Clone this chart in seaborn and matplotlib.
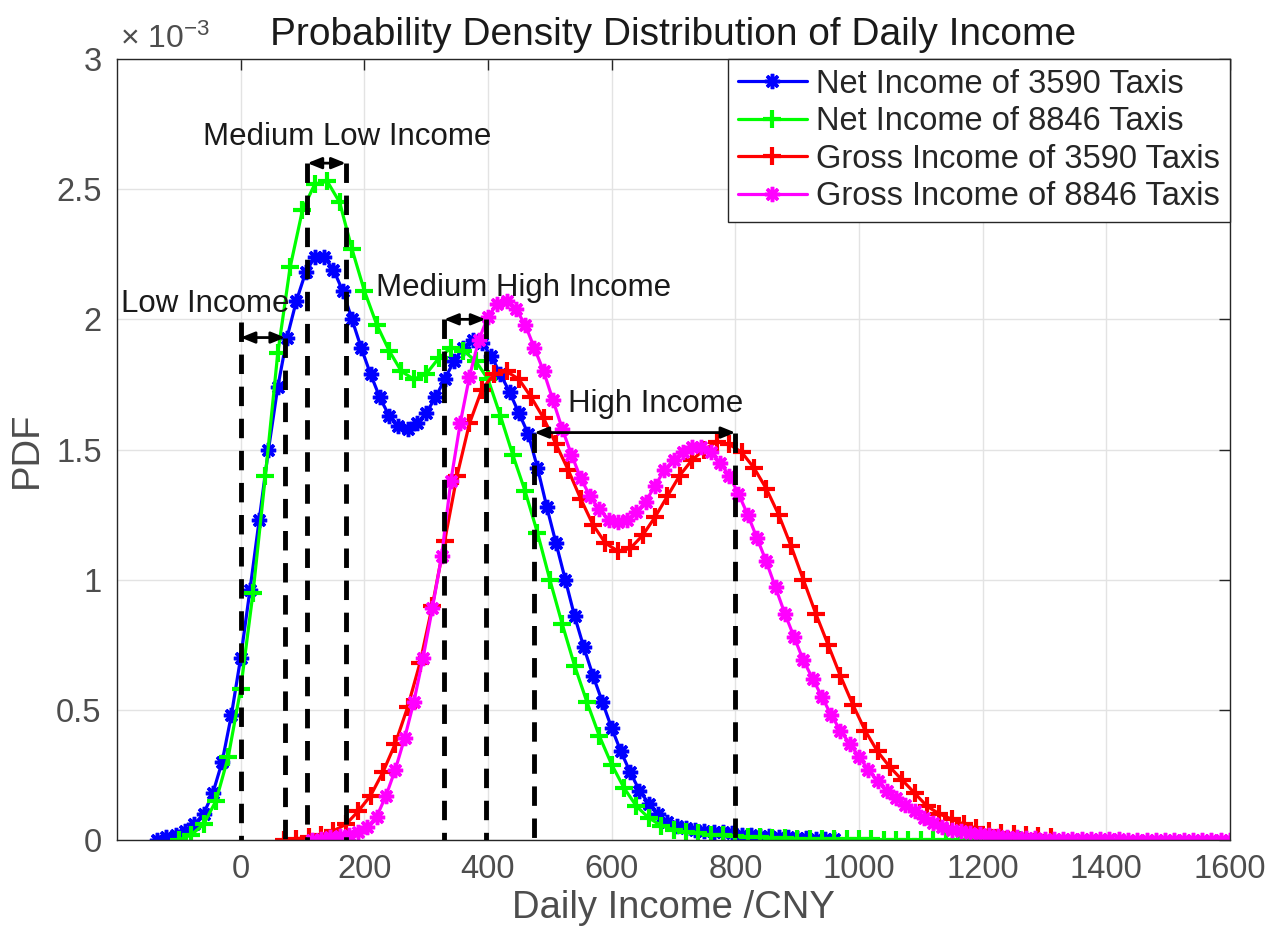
import numpy as np
import matplotlib
matplotlib.use("Agg")
import matplotlib.pyplot as plt
import seaborn as sns

# ---- kernel density estimates of daily income (PDF values in units of 1e-3) ----
x_net_3590 = np.arange(-135, 961, 15)
pdf_net_3590 = [
    0.00, 0.01, 0.02, 0.035, 0.06, 0.10, 0.18, 0.30, 0.48, 0.70,
    0.96, 1.23, 1.50, 1.74, 1.93, 2.07, 2.18, 2.24, 2.24, 2.19,
    2.11, 2.00, 1.89, 1.79, 1.70, 1.63, 1.59, 1.58, 1.60, 1.64,
    1.70, 1.77, 1.84, 1.89, 1.92, 1.91, 1.86, 1.79, 1.72, 1.64,
    1.56, 1.43, 1.28, 1.14, 1.00, 0.86, 0.74, 0.63, 0.53, 0.43,
    0.34, 0.26, 0.19, 0.14, 0.10, 0.07, 0.055, 0.045, 0.04, 0.035,
    0.03, 0.03, 0.025, 0.02, 0.02, 0.015, 0.015, 0.01, 0.01, 0.008,
    0.006, 0.005, 0.004, 0.003,
]

x_net_8846 = np.arange(-100, 1261, 20)
pdf_net_8846 = [
    0.00, 0.02, 0.06, 0.15, 0.32, 0.58, 0.95, 1.40, 1.87, 2.20,
    2.42, 2.52, 2.53, 2.45, 2.27, 2.11, 1.98, 1.88, 1.80, 1.77,
    1.79, 1.85, 1.89, 1.88, 1.84, 1.77, 1.63, 1.48, 1.34, 1.18,
    1.00, 0.83, 0.67, 0.53, 0.40, 0.29, 0.20, 0.13, 0.085, 0.055,
    0.04, 0.03, 0.025, 0.02, 0.018, 0.015, 0.012, 0.01, 0.008, 0.006,
    0.005, 0.004, 0.003, 0.003, 0.002, 0.002, 0.002, 0.001, 0.001, 0.001,
    0.001, 0.0, 0.0, 0.0, 0.0, 0.0, 0.0, 0.0, 0.0,
]

x_gross_3590 = np.arange(70, 1311, 20)
pdf_gross_3590 = [
    0.00, 0.005, 0.01, 0.02, 0.035, 0.06, 0.11, 0.17, 0.26, 0.37,
    0.51, 0.68, 0.90, 1.15, 1.40, 1.60, 1.73, 1.79, 1.80, 1.77,
    1.70, 1.62, 1.52, 1.42, 1.31, 1.21, 1.14, 1.11, 1.12, 1.17,
    1.24, 1.32, 1.40, 1.46, 1.50, 1.53, 1.52, 1.49, 1.43, 1.35,
    1.25, 1.13, 1.00, 0.87, 0.75, 0.63, 0.52, 0.42, 0.34, 0.28,
    0.23, 0.18, 0.13, 0.10, 0.08, 0.06, 0.045, 0.035, 0.028, 0.023,
    0.02, 0.015, 0.01,
]

x_gross_8846 = np.arange(115, 1601, 15)
pdf_gross_8846 = [
    0.00, 0.005, 0.01, 0.015, 0.02, 0.03, 0.05, 0.09, 0.17, 0.27,
    0.39, 0.53, 0.70, 0.89, 1.09, 1.38, 1.60, 1.78, 1.92, 2.01,
    2.06, 2.07, 2.04, 1.98, 1.89, 1.80, 1.69, 1.58, 1.48, 1.39,
    1.32, 1.27, 1.23, 1.22, 1.23, 1.26, 1.30, 1.36, 1.42, 1.46,
    1.49, 1.51, 1.51, 1.49, 1.45, 1.40, 1.33, 1.25, 1.16, 1.07,
    0.97, 0.87, 0.78, 0.69, 0.62, 0.55, 0.48, 0.42, 0.37, 0.32,
    0.27, 0.225, 0.19, 0.16, 0.135, 0.11, 0.085, 0.065, 0.05, 0.04,
    0.033, 0.027, 0.022, 0.018, 0.015, 0.012, 0.01, 0.008, 0.006, 0.005,
    0.004, 0.003, 0.003, 0.003, 0.002, 0.002, 0.002, 0.002, 0.001, 0.001,
    0.001, 0.001, 0.001, 0.001, 0.0, 0.0, 0.0, 0.0, 0.0, 0.0,
]

series_labels = [
    "Net Income of 3590 Taxis",
    "Net Income of 8846 Taxis",
    "Gross Income of 3590 Taxis",
    "Gross Income of 8846 Taxis",
]

# income bands: left bound, right bound, arrow height, label position
band_names = ["Low Income", "Medium Low Income", "Medium High Income", "High Income"]
band_left = [0, 108, 329, 475]
band_right = [72, 170, 396, 800]
band_arrow_y = [1.93, 2.60, 2.00, 1.565]
band_text_x = [-193, 172, 457, 671]
band_text_y = [2.06, 2.70, 2.12, 1.675]
left_guide_top = 1.99

x_ticks = [0, 200, 400, 600, 800, 1000, 1200, 1400, 1600]
y_ticks = [0, 0.5, 1, 1.5, 2, 2.5, 3]

sns.set_theme(style="white")
plt.rcParams["font.family"] = ["Liberation Sans", "DejaVu Sans"]
plt.rcParams["mathtext.default"] = "regular"

W, H = 1272, 938
fig = plt.figure(figsize=(W / 100, H / 100), dpi=100)
ax = fig.add_axes([117 / W, (H - 840) / H, (1230 - 117) / W, (840 - 59) / H])

tick_grey = "#4d4d4d"
axis_grey = "#262626"

styles = [
    dict(color="#0000ff", marker=(8, 2, 0), ms=11, mew=2.5),
    dict(color="#00ff00", marker="+", ms=12.5, mew=3.0),
    dict(color="#ff0000", marker="+", ms=12.5, mew=3.0),
    dict(color="#ff00ff", marker=(8, 2, 0), ms=11, mew=2.5),
]
xs = [x_net_3590, x_net_8846, x_gross_3590, x_gross_8846]
ys = [pdf_net_3590, pdf_net_8846, pdf_gross_3590, pdf_gross_8846]

for x, y, lab, st in zip(xs, ys, series_labels, styles):
    sns.lineplot(
        x=x, y=y, ax=ax, label=lab, sort=False, estimator=None,
        color=st["color"], lw=2.3, marker=st["marker"], ms=st["ms"],
        mew=st["mew"], mec=st["color"], mfc=st["color"], clip_on=True,
    )

# dashed band boundaries and double-headed arrows
guides = []
for i in range(4):
    top_l = left_guide_top if i == 0 else band_arrow_y[i]
    guides.append((band_left[i], top_l))
    guides.append((band_right[i], band_arrow_y[i]))
for gx, gtop in guides:
    ax.plot([gx, gx], [gtop, 0], color="black", lw=3.5,
            linestyle=(0, (4, 2.6)), zorder=5, solid_capstyle="butt")

for i in range(4):
    ax.annotate(
        "", xy=(band_right[i], band_arrow_y[i]), xytext=(band_left[i], band_arrow_y[i]),
        arrowprops=dict(arrowstyle="<|-|>,head_length=0.42,head_width=0.17",
                        mutation_scale=20, lw=2, color="black",
                        shrinkA=0, shrinkB=0),
        zorder=6,
    )
    ax.text(band_text_x[i], band_text_y[i], band_names[i], fontsize=22.5,
            color="#1a1a1a", ha="left" if i == 0 else "center", va="center",
            zorder=7)

ax.set_xlim(-200, 1600)
ax.set_ylim(0, 3)
ax.set_xticks(x_ticks)
ax.set_yticks(y_ticks)
ax.set_xticklabels([str(v) for v in x_ticks])
ax.set_yticklabels(["%g" % v for v in y_ticks])

ax.grid(True, color="#e3e3e3", lw=1)
ax.set_axisbelow(True)
for sp in ax.spines.values():
    sp.set_visible(True)
    sp.set_color(axis_grey)
    sp.set_linewidth(1.0)
ax.tick_params(direction="in", length=8, width=1, top=True, right=True,
               color=axis_grey, labelcolor=tick_grey, labelsize=23.5)
ax.tick_params(axis="x", pad=10)
ax.tick_params(axis="y", pad=11)

ax.set_xlabel("Daily Income /CNY", fontsize=27.5, color=tick_grey, labelpad=4)
ax.set_ylabel("PDF", fontsize=27.5, color=tick_grey, labelpad=8)
ax.set_title("Probability Density Distribution of Daily Income",
             fontsize=28, color="#1a1a1a", pad=10)
ax.text(0.003, 1.014, "× 10$^{-3}$", transform=ax.transAxes, fontsize=23,
        color=tick_grey, ha="left", va="baseline")

leg = ax.legend(loc="upper right", fontsize=23.5, frameon=True, fancybox=False,
                framealpha=1, edgecolor=axis_grey, borderaxespad=0,
                handlelength=2.1, handletextpad=0.3, labelspacing=0.2,
                borderpad=0.3)
leg.get_frame().set_linewidth(1.0)

fig.savefig("out.png", dpi=100)
